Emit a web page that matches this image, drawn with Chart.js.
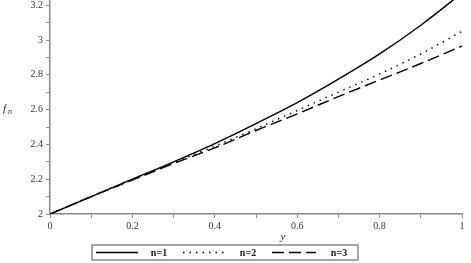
<!DOCTYPE html>
<html>
<head>
<meta charset="utf-8">
<script src="https://cdn.jsdelivr.net/npm/chart.js@4/dist/chart.umd.min.js"></script>
<style>
html,body{margin:0;padding:0;background:#fff;}
#wrap{width:471px;height:263px;position:relative;}
</style>
</head>
<body>
<div id="wrap"><canvas id="c" width="471" height="263"></canvas></div>
<script>
const xValues = [0, 0.1, 0.2, 0.3, 0.4, 0.5, 0.6, 0.7, 0.8, 0.9, 1.0];
const seriesN1 = [2.00, 2.10, 2.20, 2.30, 2.405, 2.52, 2.64, 2.775, 2.92, 3.085, 3.27];
const seriesN2 = [2.00, 2.10, 2.20, 2.295, 2.39, 2.49, 2.595, 2.70, 2.805, 2.92, 3.05];
const seriesN3 = [2.00, 2.10, 2.195, 2.29, 2.38, 2.48, 2.575, 2.675, 2.77, 2.865, 2.965];
const seriesLabels = ['n=1', 'n=2', 'n=3'];
const xTickValues = [0, 0.1, 0.2, 0.3, 0.4, 0.5, 0.6, 0.7, 0.8, 0.9, 1.0];
const xTickLabels = ['0', '', '0.2', '', '0.4', '', '0.6', '', '0.8', '', '1'];
const yTickValues = [2, 2.1, 2.2, 2.3, 2.4, 2.5, 2.6, 2.7, 2.8, 2.9, 3.0, 3.1, 3.2];
const yTickLabels = ['2', '', '2.2', '', '2.4', '', '2.6', '', '2.8', '', '3', '', '3.2'];
const xTitle = 'y';
const yTitle = 'f';
const yTitleSub = 'n';

const toPts = arr => xValues.map((x, i) => ({x: x, y: arr[i]}));
const styles = [
  {dash: []},
  {dash: [1.5, 5]},
  {dash: [12, 5]}
];
const datasets = [seriesN1, seriesN2, seriesN3].map((s, i) => ({
  label: seriesLabels[i],
  data: toPts(s),
  borderColor: '#000',
  borderWidth: 1.4,
  borderDash: styles[i].dash,
  pointRadius: 0,
  tension: 0.4,
  cubicInterpolationMode: 'monotone',
  fill: false,
  clip: 0
}));

const AXIS = '#8a8a8a';
const TICKFONT = {family: 'Liberation Serif', size: 10};

const decorPlugin = {
  id: 'decor',
  afterDraw(chart) {
    const ctx = chart.ctx;
    const ys = chart.scales.y;
    ctx.save();
    // y tick labels, positioned by the y scale
    ctx.fillStyle = '#333';
    ctx.font = '10px "Liberation Serif"';
    ctx.textAlign = 'right';
    ctx.textBaseline = 'middle';
    yTickValues.forEach((v, i) => {
      if (yTickLabels[i]) ctx.fillText(yTickLabels[i], ys.right - 7, ys.getPixelForValue(v));
    });
    ctx.fillStyle = '#222';
    ctx.textBaseline = 'alphabetic';
    ctx.textAlign = 'left';
    ctx.font = 'italic 11px "Liberation Serif"';
    ctx.fillText(yTitle, 3, 112);
    ctx.font = 'italic 8px "Liberation Serif"';
    ctx.fillText(yTitleSub, 8, 114);
    ctx.font = 'italic 11px "Liberation Serif"';
    ctx.textAlign = 'center';
    ctx.fillText(xTitle, 283, 240);
    const bx = 92, by = 245, bw = 266, bh = 15;
    ctx.strokeStyle = AXIS;
    ctx.lineWidth = 1.5;
    ctx.strokeRect(bx, by, bw, bh);
    const entries = [
      {x0: 96, x1: 138, tx: 159},
      {x0: 183, x1: 228, tx: 248},
      {x0: 272, x1: 316, tx: 339}
    ];
    const cy = by + bh / 2;
    chart.data.datasets.forEach((ds, i) => {
      const e = entries[i];
      ctx.beginPath();
      ctx.setLineDash(ds.borderDash || []);
      ctx.strokeStyle = '#000';
      ctx.lineWidth = 1.6;
      ctx.moveTo(e.x0, cy);
      ctx.lineTo(e.x1, cy);
      ctx.stroke();
      ctx.setLineDash([]);
      ctx.fillStyle = '#15153a';
      ctx.font = 'bold 10px "Liberation Serif"';
      ctx.textAlign = 'center';
      ctx.textBaseline = 'middle';
      ctx.fillText(ds.label, e.tx, cy + 0.5);
    });
    ctx.restore();
  }
};

new Chart(document.getElementById('c'), {
  type: 'line',
  data: {datasets: datasets},
  options: {
    responsive: false,
    animation: false,
    devicePixelRatio: 1,
    layout: {padding: {left: 0, right: 9, top: 0, bottom: 0}},
    plugins: {legend: {display: false}, tooltip: {enabled: false}},
    scales: {
      x: {
        type: 'linear',
        min: 0, max: 1,
        afterBuildTicks: s => { s.ticks = xTickValues.map(v => ({value: v})); },
        afterFit: s => { s.height = 49; s.paddingLeft = 0; s.paddingRight = 0; },
        ticks: {
          autoSkip: false,
          maxRotation: 0,
          padding: 2,
          color: '#333',
          font: TICKFONT,
          callback: (v, i) => xTickLabels[i]
        },
        grid: {drawOnChartArea: false, drawTicks: true, tickLength: 4, tickColor: AXIS, tickWidth: 1},
        border: {display: true, color: AXIS, width: 1.5}
      },
      y: {
        type: 'linear',
        min: 2, max: 3.23,
        afterBuildTicks: s => { s.ticks = yTickValues.map(v => ({value: v})); },
        afterFit: s => { s.width = 50; s.paddingTop = 0; s.paddingBottom = 0; },
        ticks: {
          autoSkip: false,
          padding: 3,
          color: 'rgba(0,0,0,0)',
          font: TICKFONT,
          callback: (v, i) => yTickLabels[i]
        },
        grid: {drawOnChartArea: false, drawTicks: true, tickLength: 4, tickColor: AXIS, tickWidth: 1},
        border: {display: true, color: AXIS, width: 1.5}
      }
    }
  },
  plugins: [decorPlugin]
});
</script>
</body>
</html>
